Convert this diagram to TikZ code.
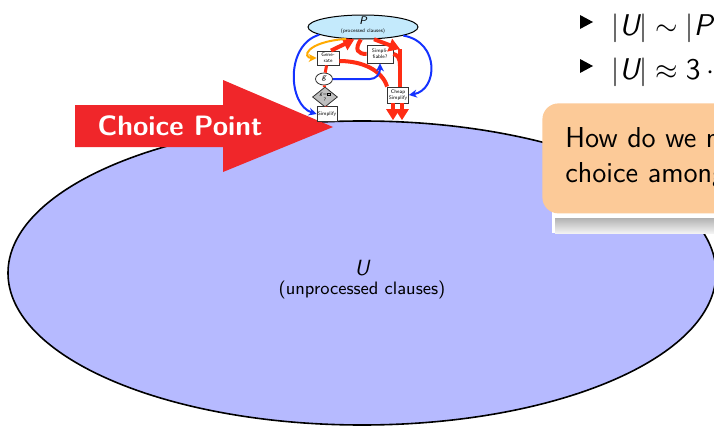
\documentclass[tikz,border=0pt]{standalone}
\usepackage{amssymb}
\usetikzlibrary{arrows.meta,shapes.geometric}

\definecolor{ufill}{RGB}{182,186,255}
\definecolor{pfill}{RGB}{196,234,252}
\definecolor{choicered}{RGB}{240,38,42}
\definecolor{flowred}{RGB}{255,45,20}
\definecolor{flowblue}{RGB}{20,50,255}
\definecolor{floworange}{RGB}{255,170,0}
\definecolor{qpeach}{RGB}{252,202,152}

\newcommand{\flowfont}{\sffamily\fontsize{2.6}{3}\selectfont}
\newcommand{\emptybox}{{\fboxsep=0pt\fboxrule=0.15pt\fbox{\rule{0pt}{1.3pt}\hspace{1.3pt}}}}

\begin{document}
\begin{tikzpicture}[x=0.5pt, y=-0.5pt,
    flowbox/.style={draw=black!80, fill=white, line width=0.4pt, inner sep=0pt, align=center, font=\flowfont},
    redflow/.style={flowred, line width=2pt},
    blueflow/.style={flowblue, line width=1pt, -{Stealth[length=4pt,width=4pt]}},
    bigtip/.style={-{Triangle[length=5.5pt,width=6.5pt]}}]
    \useasboundingbox (0,0) rectangle (714,428);
    \clip (0,0) rectangle (714,428);

    % 未处理子句
    \node[ellipse, draw, line width=0.8pt, fill=ufill, minimum width=354pt, minimum height=152pt, inner sep=0pt] (U) at (362,273) {};
    \node[font=\sffamily\fontsize{11}{13}\selectfont\itshape] (Uname) at (362,268) {U};
    \node[font=\sffamily\fontsize{9}{10}\selectfont] (Unote) at (362,290) {(unprocessed clauses)};

    % 选择点
    \fill[choicered] (75,105) -- (223,105) -- (223,80) -- (333,127) -- (223,172) -- (223,147) -- (75,147) -- cycle;
    \node[text=white, font=\sffamily\bfseries\fontsize{14}{17}\selectfont] (choice) at (180,126) {Choice Point};

    % 已处理子句和小流程图
    \node[ellipse, draw, fill=pfill, line width=0.5pt, minimum width=55pt, minimum height=12pt, inner sep=0pt] (P) at (363,27) {};
    \node[font=\sffamily\fontsize{5.5}{6}\selectfont\itshape] (Pname) at (363,21) {P};
    \node[font=\flowfont] (Pnote) at (363,31) {(processed clauses)};

    \node[flowbox, minimum width=11pt, minimum height=7pt] (gen) at (328,58) {Gene-\\rate};
    \node[flowbox, minimum width=13pt, minimum height=9pt] (simpl) at (380,54) {Simpli-\\fiable?};
    \node[flowbox, ellipse, minimum width=8.5pt, minimum height=6pt] (g) at (324,79) {\fontsize{4}{4}\selectfont\itshape g};
    \node[flowbox, diamond, fill=black!25, minimum width=12.5pt, minimum height=10pt] (test) at (325,97) {\textit{g}=\emptybox\\?};
    \node[flowbox, minimum width=10pt, minimum height=7.5pt] (simp) at (327,114) {Simplify};
    \node[flowbox, minimum width=10.5pt, minimum height=8pt] (cheap) at (398,95) {Cheap\\Simplify};

    \coordinate (split) at (400,49);
    \coordinate (join) at (400,66);

    % 红色主流程
    \draw[redflow, line width=1.5pt] (gen) -- (g);
    \draw[redflow, line width=1.5pt] (g) -- (test);
    \draw[redflow, line width=1.5pt] (test) -- (simp);
    \draw[redflow, bigtip] ([xshift=1.5pt]gen.north) -- (P.235);
    \draw[redflow] ([yshift=-1.5pt]gen.east) .. controls (362,61) and (382,70) .. (cheap.north west);
    \draw[redflow] (P.260) .. controls (354,50) and (358,54) .. (simpl.west);
    \draw[redflow, bigtip] (P.-48) -- (split);
    \draw[redflow] (simpl.east) .. controls (397,55) and (400,57) .. (join);
    \draw[redflow] (split) -- (split |- cheap.north);
    \draw[redflow, bigtip] ([xshift=-2.5pt]cheap.south) -- ([xshift=-2.5pt]cheap.south |- U.north);
    \draw[redflow, bigtip] ([xshift=2pt]cheap.south) -- ([xshift=2pt]cheap.south |- U.north);

    % 蓝色和橙色
    \draw[floworange, line width=1pt, -{Stealth[length=4pt,width=4pt]}] (P.215) .. controls (305,42) and (302,58) .. (gen.west);
    \draw[blueflow] (P.190) .. controls (285,45) and (288,105) .. (simp.west);
    \draw[blueflow] (P.-12) .. controls (440,42) and (438,90) .. (cheap.east);
    \draw[blueflow, rounded corners=5] (g.east) -| (simpl.south);

    % 列表
    \fill (580,15) -- (593,22) -- (580,29) -- cycle;
    \fill (580,59) -- (593,66) -- (580,73) -- cycle;
    \node[anchor=base west, inner sep=0pt, font=\sffamily\fontsize{15}{18}\selectfont] (item1) at (611,35) {$|\mbox{\itshape U}| \sim |\mbox{\itshape P}|$};
    \node[anchor=base west, inner sep=0pt, font=\sffamily\fontsize{15}{18}\selectfont] (item2) at (611,79) {$|\mbox{\itshape U}| \approx \mbox{3} \cdot {}$};

    % 问题框
    \fill[white] (552,205) rectangle (714,233);
    \shade[top color=gray!60, bottom color=gray!10] (555,218) rectangle (714,233);
    \node[anchor=north west, fill=qpeach, rounded corners=8, minimum height=55pt, text width=190pt, inner xsep=11.5pt, align=left, font=\sffamily\fontsize{14.4}{17.5}\selectfont] (question) at (542,103) {How do we make\\choice among};
\end{tikzpicture}
\end{document}
